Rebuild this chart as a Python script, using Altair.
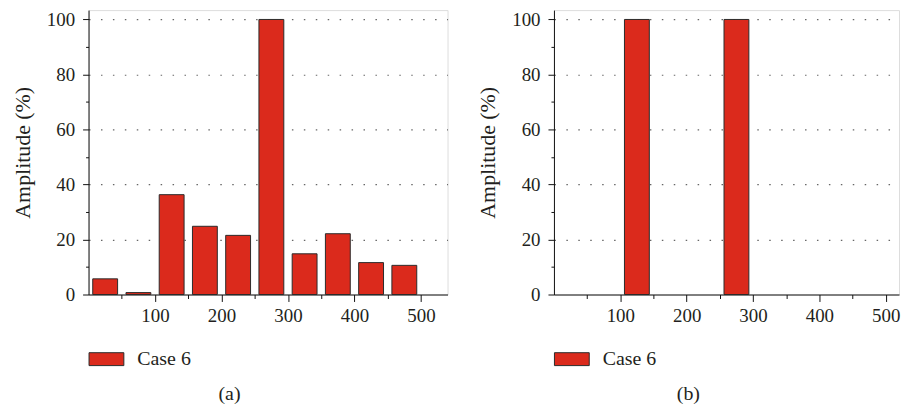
import altair as alt
import pandas as pd

# Data
freq = [25, 75, 125, 175, 225, 275, 325, 375, 425, 475]
amp_a = [5.7, 0.7, 36.3, 24.8, 21.5, 100, 14.8, 22.1, 11.6, 10.6]
amp_b = [0, 0, 100, 0, 0, 100, 0, 0, 0, 0]
series = ["Case 6"] * len(freq)

FONT = "Liberation Serif"
TXT = "#231F20"
RED = "#DB2A1C"
EDGE = "#2a2a2a"
RECT = "M-1,-0.371L1,-0.371L1,0.371L-1,0.371Z"


def panel(vals, label, xmax, width):
    df = pd.DataFrame({"freq": freq, "amp": vals, "series": series})
    x_axis = alt.Axis(
        values=list(range(50, 501, 50)),
        labelExpr="datum.value % 100 === 0 ? datum.label : ''",
        tickSize={"condition": {"test": "datum.value % 100 === 0", "value": 7}, "value": 4},
        grid=False,
        title=None,
        labelFont=FONT, labelFontSize=19, labelColor=TXT, labelPadding=5,
        domainColor="#111", tickColor="#111", labelFlush=False,
    )
    y_axis = alt.Axis(
        values=list(range(0, 101, 10)),
        labelExpr="datum.value % 20 === 0 ? datum.label : ''",
        tickSize={"condition": {"test": "datum.value % 20 === 0", "value": 6}, "value": 3},
        grid=True,
        gridDash=[1.5, 10.5],
        gridColor="#666",
        gridWidth=1.2,
        gridOpacity={"condition": {"test": "datum.value % 20 === 0 && datum.value > 0", "value": 1}, "value": 0},
        title="Amplitude (%)",
        titleFont=FONT, titleFontSize=22, titleFontWeight="normal", titleColor=TXT,
        titlePadding=12,
        labelFont=FONT, labelFontSize=19, labelColor=TXT, labelPadding=8,
        domainColor="#111", tickColor="#111", labelFlush=False,
    )
    legend = alt.Legend(
        orient="none", legendX=0, legendY=333, title=None,
        symbolType=RECT, symbolSize=1225, symbolStrokeColor=EDGE, symbolStrokeWidth=1,
        symbolOpacity=1,
        labelFont=FONT, labelFontSize=20, labelColor=TXT, labelOffset=13,
    )
    return (
        alt.Chart(df, title=alt.TitleParams(
            label, orient="bottom", anchor="middle", frame="bounds",
            font=FONT, fontSize=20, fontWeight="normal", color=TXT, offset=15))
        .transform_filter("datum.amp > 0")
        .mark_bar(size=25, stroke=EDGE, strokeWidth=1, opacity=1)
        .encode(
            x=alt.X("freq:Q", scale=alt.Scale(domain=[0, xmax], nice=False, zero=True, padding=0), axis=x_axis),
            y=alt.Y("amp:Q", scale=alt.Scale(domain=[0, 103.4], nice=False, padding=0), axis=y_axis),
            fill=alt.Fill("series:N", scale=alt.Scale(range=[RED]), legend=legend),
        )
        .properties(width=width, height=286)
    )


chart = (
    alt.hconcat(panel(amp_a, "(a)", 540, 361), panel(amp_b, "(b)", 520, 347), spacing=28)
    .resolve_scale(fill="independent")
    .resolve_legend(fill="independent")
    .properties(padding={"left": 3, "top": 0, "right": 0, "bottom": 0})
    .configure_view(stroke=None)
    .configure(background="white")
)

chart.save("out.html", embed_options={"renderer": "svg", "actions": False})
